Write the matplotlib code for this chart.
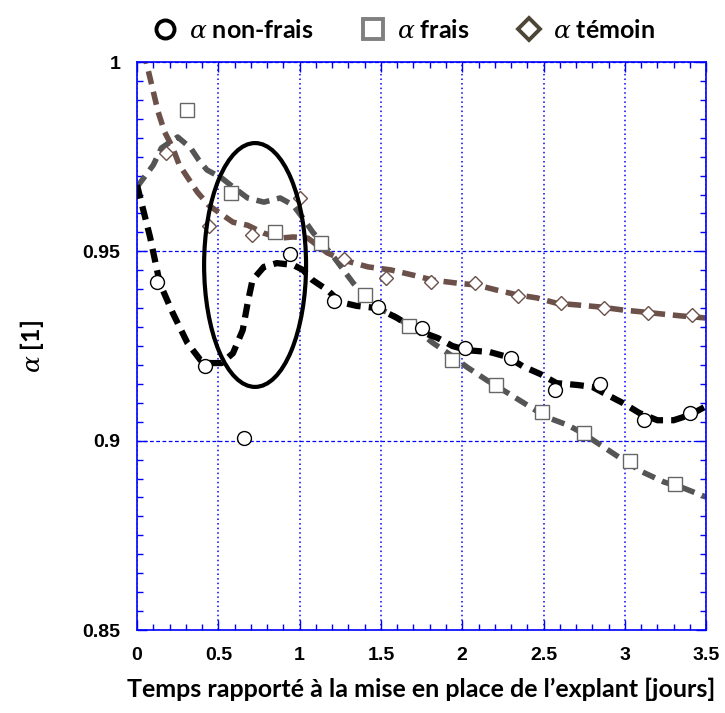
import numpy as np
import matplotlib
matplotlib.use("Agg")
import matplotlib.pyplot as plt
from matplotlib.lines import Line2D
from matplotlib.patches import Ellipse
from matplotlib.ticker import MultipleLocator, FixedLocator, FixedFormatter

plt.rcParams["font.family"] = ["Lato", "DejaVu Sans"]
plt.rcParams["mathtext.fontset"] = "custom"
plt.rcParams["mathtext.it"] = "DejaVu Serif:italic"

# ------------------------
# Data
# ------------------------
# measured points
t_nf = [0.12, 0.42, 0.66, 0.94, 1.21, 1.48, 1.75, 2.02, 2.30, 2.57, 2.85, 3.12, 3.40]
a_nf = [0.942, 0.9197, 0.9007, 0.9493, 0.9369, 0.9353, 0.9297, 0.9245, 0.9218,
        0.9134, 0.9150, 0.9054, 0.9073]

t_fr = [0.31, 0.58, 0.85, 1.13, 1.40, 1.67, 1.94, 2.21, 2.49, 2.75, 3.03, 3.31]
a_fr = [0.9873, 0.9654, 0.9550, 0.9522, 0.9385, 0.9303, 0.9213, 0.9147, 0.9076,
        0.9020, 0.8946, 0.8885]

t_tm = [0.18, 0.44, 0.71, 1.00, 1.27, 1.53, 1.81, 2.08, 2.34, 2.61, 2.87, 3.14, 3.41]
a_tm = [0.9760, 0.9567, 0.9543, 0.9640, 0.9480, 0.9430, 0.9420, 0.9416, 0.9382,
        0.9363, 0.9350, 0.9337, 0.9332]

# smoothed trend curves
tc_nf = [0.0, 0.08, 0.14, 0.22, 0.31, 0.39, 0.45, 0.52, 0.59, 0.65, 0.68, 0.71,
         0.78, 0.86, 0.96, 1.02, 1.08, 1.17, 1.25, 1.35, 1.48, 1.60, 1.72, 1.85,
         1.94, 2.03, 2.17, 2.28, 2.37, 2.48, 2.58, 2.71, 2.80, 2.87, 2.99, 3.09,
         3.20, 3.30, 3.40, 3.50]
ac_nf = [0.9675, 0.9538, 0.9416, 0.9337, 0.9258, 0.9213, 0.9205, 0.9205, 0.9231,
         0.9292, 0.9363, 0.9424, 0.9459, 0.9469, 0.9464, 0.9451, 0.9424, 0.9398,
         0.9366, 0.9356, 0.9350, 0.9324, 0.9292, 0.9271, 0.9250, 0.9239, 0.9234,
         0.9221, 0.9197, 0.9176, 0.9152, 0.9147, 0.9142, 0.9126, 0.9099, 0.9073,
         0.9054, 0.9054, 0.9068, 0.9091]

tc_fr = [0.0, 0.10, 0.15, 0.25, 0.33, 0.38, 0.43, 0.52, 0.59, 0.68, 0.78, 0.88,
         0.96, 1.02, 1.08, 1.21, 1.33, 1.45, 1.57, 1.72, 1.82, 1.93, 2.03, 2.15,
         2.28, 2.40, 2.52, 2.65, 2.74, 2.87, 2.99, 3.11, 3.24, 3.36, 3.50]
ac_fr = [0.9670, 0.9728, 0.9773, 0.9802, 0.9773, 0.9741, 0.9715, 0.9694, 0.9670,
         0.9641, 0.9630, 0.9641, 0.9622, 0.9588, 0.9551, 0.9485, 0.9416, 0.9358,
         0.9332, 0.9292, 0.9258, 0.9226, 0.9194, 0.9160, 0.9126, 0.9094, 0.9062,
         0.9041, 0.9020, 0.8983, 0.8949, 0.8917, 0.8891, 0.8875, 0.8851]

tc_tm = [0.04, 0.08, 0.13, 0.17, 0.22, 0.26, 0.33, 0.37, 0.44, 0.51, 0.59, 0.68,
         0.78, 0.88, 0.96, 1.05, 1.17, 1.27, 1.42, 1.56, 1.70, 1.82, 1.97, 2.09,
         2.21, 2.34, 2.46, 2.58, 2.72, 2.85, 2.99, 3.11, 3.24, 3.36, 3.50]
ac_tm = [1.0030, 0.9958, 0.9868, 0.9815, 0.9773, 0.9728, 0.9683, 0.9657, 0.9622,
         0.9601, 0.9577, 0.9569, 0.9548, 0.9535, 0.9538, 0.9535, 0.9496, 0.9477,
         0.9459, 0.9451, 0.9437, 0.9424, 0.9416, 0.9411, 0.9398, 0.9385, 0.9377,
         0.9363, 0.9358, 0.9353, 0.9345, 0.9340, 0.9334, 0.9329, 0.9324]

labels = [r"$\alpha$ non-frais", r"$\alpha$ frais", r"$\alpha$ témoin"]
yticks = [0.85, 0.9, 0.95, 1.0]
ytick_labels = ["0.85", "0.9", "0.95", "1"]
xticks = [0, 0.5, 1, 1.5, 2, 2.5, 3, 3.5]
xtick_labels = ["0", "0.5", "1", "1.5", "2", "2.5", "3", "3.5"]

BLUE = "#0000ff"
C_NF = "#000000"
C_FR = "#555555"
C_TM = "#6b5149"

# ------------------------
# Plot
# ------------------------
fig = plt.figure(figsize=(7.25, 7.13), dpi=100)
ax = fig.add_axes([0.189, 0.1164, 0.785, 0.7966])

ax.plot(tc_tm, ac_tm, color=C_TM, lw=4, dashes=(2.4, 1.4), zorder=2)
ax.plot(tc_fr, ac_fr, color=C_FR, lw=4, dashes=(2.4, 1.4), zorder=2)
ax.plot(tc_nf, ac_nf, color=C_NF, lw=4.5, dashes=(2.2, 1.3), zorder=3)

ax.plot(t_fr, a_fr, ls="none", marker="s", ms=10, mfc="white", mec="#666666",
        mew=1.0, zorder=4)
ax.plot(t_tm, a_tm, ls="none", marker="D", ms=7.5, mfc="white", mec="#6b5149",
        mew=1.0, zorder=4)
ax.plot(t_nf, a_nf, ls="none", marker="o", ms=10, mfc="white", mec="black",
        mew=1.0, zorder=5)

ax.add_patch(Ellipse((0.726, 0.9464), 0.627, 0.0644, fill=False,
                     ec="black", lw=3, zorder=6))

ax.set_xlim(0, 3.5)
ax.set_ylim(0.85, 1.0)

ax.xaxis.set_major_locator(FixedLocator(xticks))
ax.xaxis.set_major_formatter(FixedFormatter(xtick_labels))
ax.yaxis.set_major_locator(FixedLocator(yticks))
ax.yaxis.set_major_formatter(FixedFormatter(ytick_labels))
ax.xaxis.set_minor_locator(MultipleLocator(0.1))
ax.yaxis.set_minor_locator(MultipleLocator(0.005))

ax.tick_params(which="both", direction="in", top=True, right=True,
               color=BLUE, pad=12)
ax.tick_params(which="major", length=7, width=1)
ax.tick_params(which="minor", length=4, width=1)
for lab in ax.get_xticklabels() + ax.get_yticklabels():
    lab.set_fontweight("bold")
    lab.set_fontsize(14)
    lab.set_family(["Liberation Sans", "DejaVu Sans"])

for sp in ax.spines.values():
    sp.set_color(BLUE)
    sp.set_linewidth(1.2)

# vertical grid dotted, horizontal grid dashed
ax.xaxis.grid(True, which="major", color=BLUE, ls=(0, (1, 2)), lw=1.1)
ax.yaxis.grid(True, which="major", color=BLUE, ls=(0, (3, 2)), lw=0.9)

ax.set_xlabel("Temps rapporté à la mise en place de l\u2019explant [jours]",
              fontsize=18, fontweight="bold", labelpad=10)
ax.set_ylabel(r"$\alpha$ [1]", fontsize=18, fontweight="bold", labelpad=26)

handles = [
    Line2D([], [], ls="none", marker="o", ms=13, mfc="white", mec="black", mew=2.8),
    Line2D([], [], ls="none", marker="s", ms=14, mfc="white", mec="#808080", mew=2.8),
    Line2D([], [], ls="none", marker="D", ms=11, mfc="white", mec="#4d4535", mew=2.8),
]
fig.legend(handles, labels, loc="upper center", bbox_to_anchor=(0.555, 1.005),
           ncol=3, frameon=False, prop={"weight": "bold", "size": 18},
           handletextpad=0.35, columnspacing=1.8, handlelength=1.2)

fig.savefig("out.png", dpi=100)
